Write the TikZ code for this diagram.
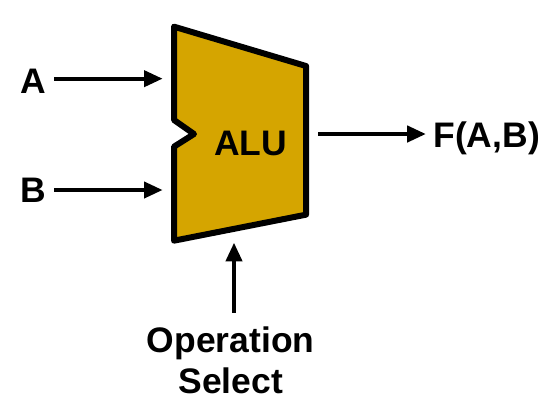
\documentclass[tikz,border=0pt]{standalone}
\usepackage{xcolor}
\usepackage{fontspec}
\setmainfont{Liberation Sans}
\usepackage{tikz}
\usetikzlibrary{arrows.meta, positioning, calc}
\definecolor{alugold}{HTML}{D5A500}
\tikzset{
	signal/.style={font=\fontsize{26.6}{31}\selectfont\bfseries, inner sep=0pt, align=center},
	wire/.style={line width=3pt, -{Triangle[length=14pt, width=12pt]}},
}

\begin{document}
\begin{tikzpicture}[x=1pt, y=-1pt]
				\useasboundingbox (0,0) rectangle (419.25,311.25);
				\fill[white] (0,0) rectangle (419.25,311.25);
				\draw[line width=4.5pt, fill=alugold, draw=black, line join=round] (130.5,20) -- (229.5,49.5) -- (229.5,161) -- (130.5,180.5) -- (130.5,110) -- (145.5,100.5) -- (130.5,90) -- cycle;
				\node[signal] (alu) at (188,107.5) {ALU};
				\node[signal] (a) at (25,61) {A};
				\node[signal] (b) at (25,142.5) {B};
				\node[signal] (f) at (365,103.5) {F(A,B)};
				\node[signal] (opsel) at (173,270) {Operation\\Select};
				\coordinate (ain) at (122,59);
				\coordinate (bin) at (122,142.5);
				\coordinate (fout) at (238.5,100.5);
				\coordinate (opin) at (175.5,182);
				\draw[wire] (a.east) ++(6,-2) -- (ain);
				\draw[wire] (b.east) ++(6,0) -- (bin);
				\draw[wire] (fout) -- ($(f.west)+(-5.5,-3)$);
				\draw[wire] (opsel.north -| opin) ++(0,-10) -- (opin);
			\end{tikzpicture}
\end{document}
